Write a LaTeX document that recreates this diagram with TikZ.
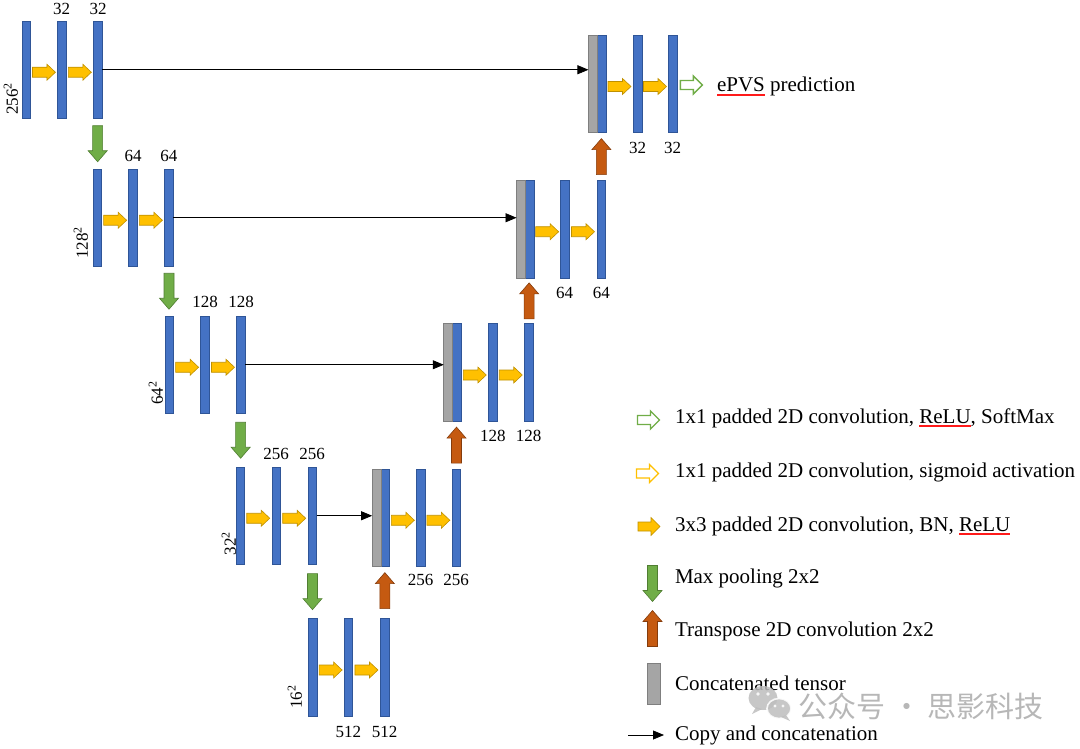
\documentclass[tikz,border=0pt]{standalone}
\usepackage{fontspec}
\setmainfont{Liberation Serif}
\newfontfamily\cjkfont{Noto Sans CJK SC}
\usetikzlibrary{arrows.meta,calc}

\definecolor{barblue}{HTML}{4472C4}
\definecolor{barblueD}{HTML}{2F5597}
\definecolor{cgray}{HTML}{A5A5A5}
\definecolor{cgrayD}{HTML}{7F7F7F}
\definecolor{convO}{HTML}{FFC000}
\definecolor{convOD}{HTML}{BF9000}
\definecolor{poolG}{HTML}{70AD47}
\definecolor{poolGD}{HTML}{507E32}
\definecolor{upO}{HTML}{C55A11}
\definecolor{upOD}{HTML}{843C0C}
\definecolor{wmgray}{HTML}{BDBDBD}
\definecolor{spellred}{HTML}{FF1A1A}

\tikzset{
  bar/.style={draw=barblueD, fill=barblue, line width=0.7pt, minimum width=8.7pt,
              minimum height=97.5pt, inner sep=0pt, outer sep=0pt},
  cbar/.style={bar, draw=cgrayD, fill=cgray},
  num/.style={font=\fontsize{17}{20}\selectfont, inner sep=0pt},
  dimlab/.style={num, rotate=90},
  leg/.style={font=\fontsize{21}{25}\selectfont, anchor=base west, inner sep=0pt, outer sep=0pt},
  spell/.style={draw=spellred, line width=1.6pt},
  copyline/.style={-{Triangle[length=11pt,width=9pt]}, line width=0.75pt, black},
  rarr/.pic={\path[pic actions] (-11.5,-5) -- (3,-5) -- (3,-8) -- (11.5,0) -- (3,8) -- (3,5) -- (-11.5,5) -- cycle;},
  harr/.pic={\path[pic actions] (-11,-4.5) -- (2,-4.5) -- (2,-9) -- (11,0) -- (2,9) -- (2,4.5) -- (-11,4.5) -- cycle;},
  darr/.pic={\path[pic actions] (-5,-18) -- (5,-18) -- (5,7) -- (9.5,7) -- (0,18) -- (-9.5,7) -- (-5,7) -- cycle;},
  uarr/.pic={\path[pic actions] (-5,18) -- (5,18) -- (5,-7) -- (9.5,-7) -- (0,-18) -- (-9.5,-7) -- (-5,-7) -- cycle;},
  conv/.style={fill=convO, draw=convOD, line width=0.6pt},
  pool/.style={fill=poolG, draw=poolGD, line width=0.6pt},
  upconv/.style={fill=upO, draw=upOD, line width=0.6pt},
  outg/.style={fill=white, draw=poolG, line width=1.3pt},
  outy/.style={fill=white, draw=convO, line width=1.3pt},
}

\begin{document}
\begin{tikzpicture}[x=1pt,y=-1pt]
\useasboundingbox (0,0) rectangle (1080,749);

% ---------------- encoder ----------------
\node[bar] (l1a) at (26.2,69.75) {};
\node[bar] (l1b) at (61.7,69.75) {};
\node[bar] (l1c) at (98,69.75) {};

\node[bar] (l2a) at (97.3,217.75) {};
\node[bar] (l2b) at (133,217.75) {};
\node[bar] (l2c) at (168.8,217.75) {};

\node[bar] (l3a) at (169.2,364.75) {};
\node[bar] (l3b) at (205,364.75) {};
\node[bar] (l3c) at (241,364.75) {};

\node[bar] (l4a) at (240.3,515.75) {};
\node[bar] (l4b) at (276.2,515.75) {};
\node[bar] (l4c) at (312.2,515.75) {};

\node[bar] (l5a) at (312.8,667.5) {};
\node[bar] (l5b) at (348.4,667.5) {};
\node[bar] (l5c) at (384.5,667.5) {};

% ---------------- decoder ----------------
\node[bar] (r4a) at (385.2,517.75) {};
\node[cbar, anchor=east] (r4g) at (r4a.west) {};
\node[bar] (r4b) at (420.5,517.75) {};
\node[bar] (r4c) at (456.2,517.75) {};

\node[bar] (r3a) at (456.8,372.5) {};
\node[cbar, anchor=east] (r3g) at (r3a.west) {};
\node[bar] (r3b) at (492.8,372.5) {};
\node[bar] (r3c) at (528.7,372.5) {};

\node[bar] (r2a) at (529.6,229.25) {};
\node[cbar, anchor=east] (r2g) at (r2a.west) {};
\node[bar] (r2b) at (564.7,229.25) {};
\node[bar] (r2c) at (601.3,229.25) {};

\node[bar] (r1a) at (601.5,84) {};
\node[cbar, anchor=east] (r1g) at (r1a.west) {};
\node[bar] (r1b) at (637.5,84) {};
\node[bar] (r1c) at (672.5,84) {};

% ---------------- 3x3 conv arrows ----------------
\foreach \p/\q in {l1a/l1b,l1b/l1c,l2a/l2b,l2b/l2c,l3a/l3b,l3b/l3c,l4a/l4b,l4b/l4c,l5a/l5b,l5b/l5c,
                   r4a/r4b,r4b/r4c,r3a/r3b,r3b/r3c,r2a/r2b,r2b/r2c,r1a/r1b,r1b/r1c}
  \pic[conv] at ($($(\p.east)!0.5!(\q.west)$)+(0,2.5)$) {rarr};

% ---------------- pooling arrows ----------------
\pic[pool] at ($(l1c.south)!0.5!(l2a.north)$) {darr};
\pic[pool] at ($(l2c.south)!0.5!(l3a.north)$) {darr};
\pic[pool] at ($(l3c.south)!0.5!(l4a.north)$) {darr};
\pic[pool] at ($(l4c.south)!0.5!(l5a.north)$) {darr};

% ---------------- up-convolution arrows ----------------
\pic[upconv] at ($(l5c.north)!0.5!(r4a.south)+(0,-2)$) {uarr};
\pic[upconv] at ($(r4c.north)!0.5!(r3a.south)$) {uarr};
\pic[upconv] at ($(r3c.north)!0.5!(r2a.south)$) {uarr};
\pic[upconv] at ($(r2c.north)!0.5!(r1a.south)$) {uarr};

% ---------------- copy and concatenation ----------------
\draw[copyline] (l1c.east) -- (l1c.east -| r1g.west);
\draw[copyline] (l2c.east) -- (l2c.east -| r2g.west);
\draw[copyline] (l3c.east) -- (l3c.east -| r3g.west);
\draw[copyline] (l4c.east) -- (l4c.east -| r4g.west);

% ---------------- output ----------------
\pic[outg] at ($(r1c.east)+(14.5,1)$) {harr};
\node[leg] (predA) at (717,92) {ePVS};
\node[leg] (predB) at ([xshift=5.25pt]predA.base east) {prediction};
\draw[spell] ([yshift=-3pt]predA.base west) -- ([yshift=-3pt]predA.base east);

% ---------------- channel labels ----------------
\node[num] at ($(l1b.north)+(0,-12)$) {32};
\node[num] at ($(l1c.north)+(0,-12)$) {32};
\node[num] at ($(l2b.north)+(0,-13)$) {64};
\node[num] at ($(l2c.north)+(0,-13)$) {64};
\node[num] at ($(l3b.north)+(0,-14)$) {128};
\node[num] at ($(l3c.north)+(0,-14)$) {128};
\node[num] at ($(l4b.north)+(0,-13)$) {256};
\node[num] at ($(l4c.north)+(0,-13)$) {256};
\node[num] at ($(l5b.south)+(0,16)$) {512};
\node[num] at ($(l5c.south)+(0,16)$) {512};
\node[num] at ($(r4b.south)+(0,13)$) {256};
\node[num] at ($(r4c.south)+(0,13)$) {256};
\node[num] at ($(r3b.south)+(0,15)$) {128};
\node[num] at ($(r3c.south)+(0,15)$) {128};
\node[num] at ($(r2b.south)+(0,15)$) {64};
\node[num] at ($(r2c.south)+(0,15)$) {64};
\node[num] at ($(r1b.south)+(0,15)$) {32};
\node[num] at ($(r1c.south)+(0,15)$) {32};

% ---------------- resolution labels ----------------
\node[dimlab] at (11,99) {256\textsuperscript{2}};
\node[dimlab] at (81,243) {128\textsuperscript{2}};
\node[dimlab] at (156,393) {64\textsuperscript{2}};
\node[dimlab] at (229,543.5) {32\textsuperscript{2}};
\node[dimlab] at (295,697) {16\textsuperscript{2}};

% ---------------- legend ----------------
\pic[outg] at (648.5,420) {harr};
\node[leg] (lg1a) at (675,423) {1x1 padded 2D convolution,};
\node[leg] (lg1b) at ([xshift=5.25pt]lg1a.base east) {ReLU};
\node[leg] (lg1c) at (lg1b.base east) {, SoftMax};
\draw[spell] ([yshift=-3pt]lg1b.base west) -- ([yshift=-3pt]lg1b.base east);

\pic[outy] at (647.5,473.5) {harr};
\node[leg] (lg2) at (675,477) {1x1 padded 2D convolution, sigmoid activation};

\pic[conv] at (649,526.5) {harr};
\node[leg] (lg3a) at (675,531) {3x3 padded 2D convolution, BN,};
\node[leg] (lg3b) at ([xshift=5.25pt]lg3a.base east) {ReLU};
\draw[spell] ([yshift=-3pt]lg3b.base west) -- ([yshift=-3pt]lg3b.base east);

\pic[pool] at (652.5,583.5) {darr};
\node[leg] (lg4) at (675,583) {Max pooling 2x2};
\pic[upconv] at (652.5,628.5) {uarr};
\node[leg] (lg5) at (675,636) {Transpose 2D convolution 2x2};
\node[cbar, minimum width=13pt, minimum height=41pt] (legc) at (654,683.5) {};
\node[leg] (lg6) at (675,690) {Concatenated tensor};
\coordinate (cpA) at (628,735);
\coordinate (cpB) at (664,735);
\draw[copyline] (cpA) -- (cpB);
\node[leg] (lg7) at (675,740) {Copy and concatenation};

% ---------------- watermark ----------------
\begin{scope}[opacity=0.85]
  \fill[wmgray] (763,698) ellipse (14.5 and 12);
  \fill[wmgray] (756,707) -- (752,714) -- (762,709) -- cycle;
  \fill[white] (758,694) circle (1.9);
  \fill[white] (768,694) circle (1.9);
  \draw[white, line width=1.6pt, fill=wmgray] (779,708.5) ellipse (12 and 10);
  \fill[wmgray] (786,715) -- (790,721) -- (781,717) -- cycle;
  \fill[white] (775,706) circle (1.6);
  \fill[white] (783,706) circle (1.6);
  \node[text=wmgray!90!black, font=\cjkfont\fontsize{29}{32}\selectfont, inner sep=0pt] (wm) at (921,706) {公众号 · 思影科技};
\end{scope}
\end{tikzpicture}
\end{document}
